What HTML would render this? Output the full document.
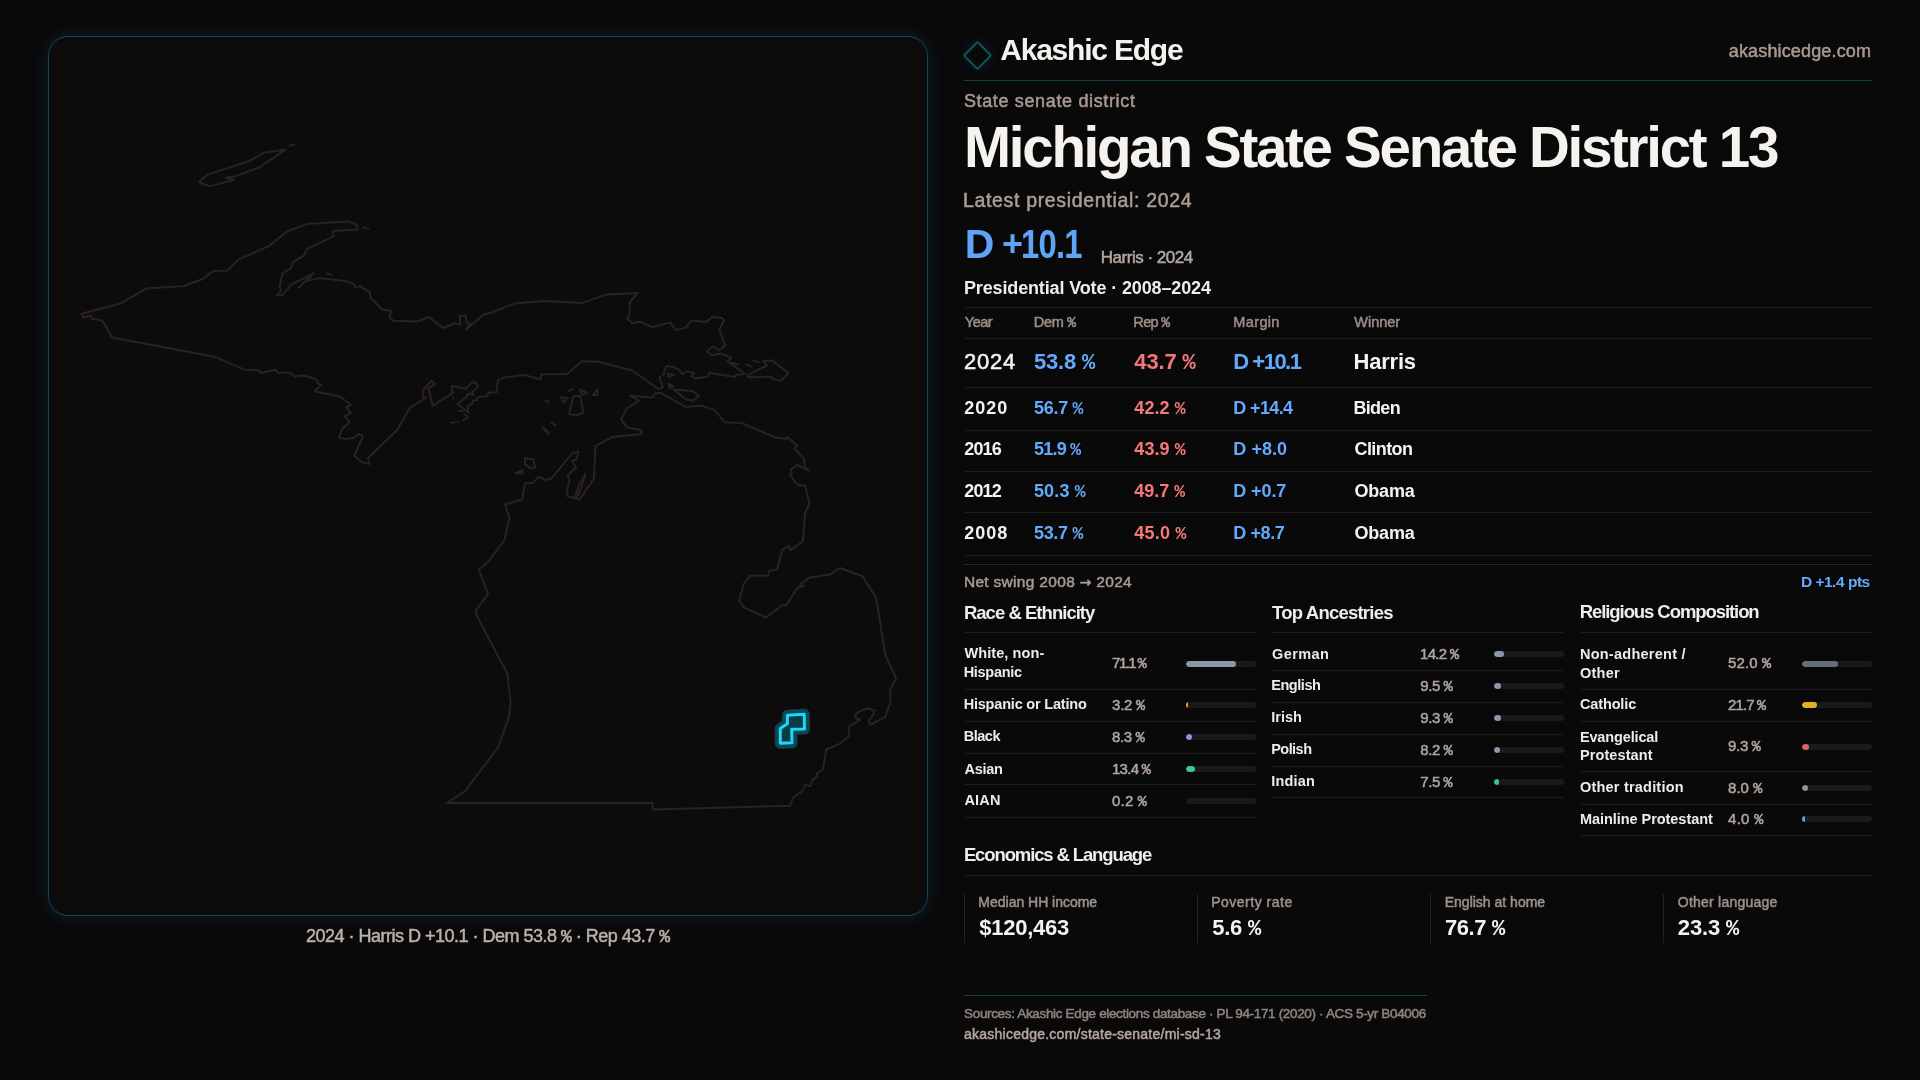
<!DOCTYPE html>
<html><head><meta charset="utf-8"><title>Michigan State Senate District 13</title>
<style>
*{margin:0;padding:0;box-sizing:border-box}
html,body{width:1920px;height:1080px;overflow:hidden;background:#0a090a;font-family:"Liberation Sans",Arial,sans-serif}
.t{position:absolute;white-space:nowrap;line-height:1;font-weight:700}
#tx{position:absolute;left:0;top:0;width:1920px;height:1080px;will-change:transform}
.pc{font-family:'Liberation Mono',monospace}
.ar{font-family:'DejaVu Sans',sans-serif;font-size:0.9em}
.l{position:absolute}
.bar{position:absolute;width:70px;height:6px;border-radius:3px;background:#1b1a1a;overflow:hidden}
.bar i{position:absolute;left:0;top:0;height:6px}
#panel{position:absolute;left:48px;top:36px;width:880px;height:880px;border:1px solid #0f4a57;border-radius:20px;background:#0d0b0c;box-shadow:0 0 16px 1px rgba(16,90,108,.24)}
svg{position:absolute;left:0;top:0}
</style></head><body>
<div id="panel"></div>
<svg width="940" height="930" viewBox="0 0 940 930">
<path d="M81.4 313.8 L121.4 303.2 L146.1 288.6 L183.8 286 L202.8 279 L213.3 270.9 L227.1 270.7 L238 259.9 L269.1 245.9 L286.6 231.7 L306.2 224.1 L348.2 221.4 L357.2 224.7 L357.7 229.5 L332.5 231.1 L334 236.1 L306.7 249.2 L304.5 255.1 L292.7 262.3 L290.9 268.2 L282.6 273.3 L279.6 285.8 L281.1 290.8 L276.7 295.2 L282.2 295.2 L288.8 287.9 L290.5 284.9 L313.5 273.3 L307.3 280.9 L319.4 278.1 L345.6 280.9 L354.4 284.2 L355.5 287.9 L359.8 285.8 L369.7 292.3 L370.8 298 L382.4 309.8 L391.6 311.1 L389.4 317 L393.3 320.8 L417.8 321.4 L428.8 317 L443 328 L455 323.2 L460.5 324.7 L459.4 315.9 L465.9 315.5 L466.4 322.5 L470.3 323.6 L465.9 329.5 L483.4 314.8 L490 313 L514.1 303.6 L544.7 300.9 L581.9 303.1 L607 294.4 L637.7 293.1 L630 302 L629.3 316.7 L626.7 318 L632.2 323.2 L639.8 321.7 L651.9 327.2 L670.5 322.4 L675.5 330 L685.8 327.6 L691.2 320.6 L706.6 321.7 L712 317.1 L722.3 318 L724.1 320.6 L719.2 329.4 L725.2 345.8 L718.6 350.2 L713.1 346.4 L706.6 351.2 L712 355.2 L720.8 353.4 L731.7 357.8 L727.3 361.1 L744.8 373.8 L736.1 374.9 L735 377.1 L708.8 372.7 L708.3 376.4 L695.6 378.6 L691.2 375.8 L694.5 372.7 L686.9 371.4 L682.5 374.2 L679.2 369.8 L673.3 367 L666.8 366.1 L664.6 369.8 L663.9 374.2 L659.5 377.5 L662.8 387.3 L658.4 388.9 L632.2 370.5 L598.3 361.8 L581.9 361.3 L566.6 374.2 L541.4 374.2 L540.3 379.2 L523.9 374.9 L504.2 377.5 L500 379.4 L497.8 380.6 L496.7 392.2 L488.3 392.8 L487.5 396.1 L477.2 397.5 L477.2 400.3 L472.8 400.6 L472.5 403.3 L467.8 406.1 L468.6 412.8 L457.8 404.2 L464.4 398.3 L466.7 397.2 L467.2 393.9 L474.2 394.7 L471.7 392.8 L477.8 386.7 L476.1 382.8 L472.2 382.2 L465.6 388.9 L451.9 385.8 L451.7 393.9 L432.8 405.6 L428.3 388.3 L435 384.2 L431.7 380.8 L426.4 386.1 L423.3 390.6 L422.8 396.1 L425.6 397.8 L420 401.7 L409.6 408.3 L396.9 430.2 L368 458 L369.5 463.9 L361.9 462.3 L354.2 455.8 L363 436.1 L359.2 433.9 L353.1 438.3 L344.4 438.9 L338.9 437.2 L342.6 428.4 L349.8 422.3 L344.8 416.4 L350.9 413.1 L346.1 407 L350.9 404.8 L340 396.7 L314.8 391.2 L321.4 384.7 L318.1 383.6 L317 379.9 L309.4 377 L302.8 375.5 L295.2 376.4 L289.7 372.7 L277.7 372.7 L275.5 369.8 L260.2 373.1 L259.1 370.5 L244.8 369.8 L216.4 357.3 L200 354.1 L112 337.4 L102.4 320.8 L91.9 318.6 L90.8 315.5 L83.6 317.5Z M630 395.7 L653 397.6 L655.2 393.2 L660.6 392.8 L685.8 407 L701.1 405.5 L708.8 408.1 L714.2 409.9 L725.2 422.3 L741.6 423 L775.5 437.7 L786.4 438.8 L787.1 437 L797.3 445.8 L794.5 448.6 L803.9 458.4 L805 467.6 L809.4 470.5 L797.3 465 L790.8 469.4 L791.9 472.7 L789.7 473.8 L795.2 482.5 L798.4 484.7 L805 485.8 L809.4 503.3 L805 513.1 L809.5 503.8 L805 513.8 L803 541.2 L790.5 550 L788.8 546.2 L782.5 549.5 L777 569.5 L769.5 570.5 L768 575.8 L750 575.8 L743.8 583.8 L739.2 600 L743.8 607.5 L766.2 617.5 L782.5 605 L786.2 605.5 L791.2 597.5 L797.5 587.5 L803.8 586.2 L800 584.5 L810 577.5 L830 574.5 L840 568 L862.5 576.2 L876.2 598 L885 653.8 L896.2 678.8 L890 690 L890.5 702.5 L885 717 L870 725 L868.8 721.2 L871.2 717.5 L873.8 713.8 L874.5 710.5 L867.5 708.2 L856.2 713.2 L855 717.5 L860 720 L849.5 726.2 L848.8 736.2 L840 743.8 L826.2 749.5 L823 769.5 L818.8 772 L816.2 773.8 L817.5 776.2 L812.5 780 L810 786.2 L805 785 L802.5 791.2 L793 797.5 L790 805.8 L652.5 809.5 L652.5 803 L447 803 L465 791.2 L498 747.5 L508.8 717.5 L510.5 702.5 L508 680 L508 675 L476.2 614.5 L476.2 610 L488 593.8 L478.8 569.5 L488.8 561.2 L504.5 540 L509.5 517.5 L505 504.5 L522.2 499.5 L524.8 483.6 L532.9 483.1 L538.6 476.6 L545.6 480.1 L551.1 478.8 L571.9 453.6 L578.4 451.4 L576.7 459.1 L571.9 461.2 L576.2 467.8 L571.9 471.1 L567.5 476.1 L569.7 480.9 L567.1 488.6 L567.5 496.2 L579.5 499.5 L593.8 478.8 L595.5 445.9 L612.5 437 L642 433.9 L640.9 430 L626.7 427.4 L621.2 419.1 L626.7 408.8 L638.8 400.5Z M199.1 181.8 L208.2 174.4 L248.9 161.3 L264.2 152.5 L285.5 149.7 L259.9 167.2 L234.5 176.6 L225.8 177.7 L234.1 179.9 L210 186.4 L201.9 183.6Z M747 375.8 L754.7 371.4 L766.7 365.5 L763.4 361.1 L772.2 360.4 L788.6 373.1 L780.9 380.8 L772.2 378.6 L771.1 376.4 L750.3 377.5Z M573.1 396.5 L580.1 396.1 L583.6 412.5 L577.5 415.1 L569.2 414.2Z M561.1 397.2 L567.7 398.3 L563.9 402.7Z M542.5 427.8 L548.6 434.4 L546.4 430Z M579.7 389.5 L587.3 392.8 L581.9 395Z M592.8 395 L597.2 389.5 L597.6 395Z M525 458 L533.3 459.5 L535.5 467.6 L529.8 468.3 L525 463.9Z M515.2 473.3 L522.4 469.8 L522.8 473.3Z M673.8 389.5 L692.3 391.1 L698.9 395.4 L693.4 400.5 L685.8 399.4Z M668.3 373.1 L673.8 375.3 L668.3 377.1Z M668.3 383.6 L673.3 386.2 L669.8 388Z M574.5 498 L579.5 484.2 L585.4 473.9 L581.7 486.4 L576.7 498Z M289.8 145.8 L294.2 144.2 M363.1 227.3 L368.6 228.9 M313.5 273.3 L298.6 287.9 M731.7 362.6 L738.3 364.8 M745.9 364.4 L751.4 366.6 M752.5 360.4 L759.1 362.2 M545.8 400.5 L548.6 402 M551.7 423 L555.2 425.2 M568.8 391.1 L573.1 388.9 M327.7 273.3 L331.4 274.8 M451.1 422.8 L454.4 422.2 M457.6 422 L458.2 422.1 M464.4 414.4 L468.3 416.7 L463.3 420.6 M459 411 L462.8 411 M453.3 392.2 L453.6 392.4 M453.3 397.8 L453.6 398" fill="none" stroke="#272323" stroke-width="2" stroke-linejoin="round" stroke-linecap="round"/>
<path d="M787.4 715.3 L804.2 714.3 L804.5 729 L791.7 729.3 L792 742.8 L780.3 743.3 L780.3 728.5 L787.4 723.7Z" fill="#0b3d48" stroke="#0c4a56" stroke-width="11" stroke-linejoin="round" opacity="0.95"/>
<path d="M787.4 715.3 L804.2 714.3 L804.5 729 L791.7 729.3 L792 742.8 L780.3 743.3 L780.3 728.5 L787.4 723.7Z" fill="#0b3a45" stroke="#1ad9f6" stroke-width="3" stroke-linejoin="round"/>
</svg>
<div style="position:absolute;left:967.1px;top:44.5px;width:21px;height:21px;border:2px solid #135360;transform:rotate(45deg);border-radius:2px;box-shadow:0 0 12px rgba(20,110,130,.2)"></div>
<div class="l" style="left:964px;top:80px;width:908px;height:1px;background:#123f49"></div>
<div class="l" style="left:964px;top:307px;width:908px;height:1px;background:#1f1c1d"></div>
<div class="l" style="left:964px;top:338px;width:908px;height:1px;background:#1f1c1d"></div>
<div class="l" style="left:964px;top:387px;width:908px;height:1px;background:#1f1c1d"></div>
<div class="l" style="left:964px;top:430px;width:908px;height:1px;background:#1f1c1d"></div>
<div class="l" style="left:964px;top:471px;width:908px;height:1px;background:#1f1c1d"></div>
<div class="l" style="left:964px;top:512px;width:908px;height:1px;background:#1f1c1d"></div>
<div class="l" style="left:964px;top:555px;width:908px;height:1px;background:#1f1c1d"></div>
<div class="l" style="left:964px;top:564px;width:908px;height:1px;background:#2a2627"></div>
<div class="l" style="left:964px;top:632px;width:292px;height:1px;background:#1f1c1d"></div>
<div class="l" style="left:964px;top:689px;width:292px;height:1px;background:#1f1c1d"></div>
<div class="l" style="left:964px;top:721px;width:292px;height:1px;background:#1f1c1d"></div>
<div class="l" style="left:964px;top:753px;width:292px;height:1px;background:#1f1c1d"></div>
<div class="l" style="left:964px;top:784px;width:292px;height:1px;background:#1f1c1d"></div>
<div class="l" style="left:964px;top:817px;width:292px;height:1px;background:#1f1c1d"></div>
<div class="l" style="left:1272px;top:632px;width:292px;height:1px;background:#1f1c1d"></div>
<div class="l" style="left:1272px;top:670px;width:292px;height:1px;background:#1f1c1d"></div>
<div class="l" style="left:1272px;top:702px;width:292px;height:1px;background:#1f1c1d"></div>
<div class="l" style="left:1272px;top:734px;width:292px;height:1px;background:#1f1c1d"></div>
<div class="l" style="left:1272px;top:766px;width:292px;height:1px;background:#1f1c1d"></div>
<div class="l" style="left:1272px;top:797px;width:292px;height:1px;background:#1f1c1d"></div>
<div class="l" style="left:1580px;top:632px;width:292px;height:1px;background:#1f1c1d"></div>
<div class="l" style="left:1580px;top:689px;width:292px;height:1px;background:#1f1c1d"></div>
<div class="l" style="left:1580px;top:721px;width:292px;height:1px;background:#1f1c1d"></div>
<div class="l" style="left:1580px;top:771px;width:292px;height:1px;background:#1f1c1d"></div>
<div class="l" style="left:1580px;top:804px;width:292px;height:1px;background:#1f1c1d"></div>
<div class="l" style="left:1580px;top:835px;width:292px;height:1px;background:#1f1c1d"></div>
<div class="l" style="left:964px;top:875px;width:908px;height:1px;background:#1f1c1d"></div>
<div class="l" style="left:964px;top:995px;width:463px;height:1px;background:#123f49"></div>
<div class="l" style="left:964px;top:894px;width:1px;height:49px;background:#262223"></div>
<div class="l" style="left:1197px;top:894px;width:1px;height:49px;background:#262223"></div>
<div class="l" style="left:1430px;top:894px;width:1px;height:49px;background:#262223"></div>
<div class="l" style="left:1663px;top:894px;width:1px;height:49px;background:#262223"></div>
<div class="bar" style="left:1186px;top:661.0px"><i style="width:49.8px;background:#8a97ab;border-radius:3px"></i></div>
<div class="bar" style="left:1186px;top:702.0px"><i style="width:2.2px;background:#f29e12;border-radius:1px"></i></div>
<div class="bar" style="left:1186px;top:734.0px"><i style="width:5.8px;background:#a484e8;border-radius:3px"></i></div>
<div class="bar" style="left:1186px;top:766.0px"><i style="width:9.4px;background:#34c992;border-radius:3px"></i></div>
<div class="bar" style="left:1186px;top:798.0px"></div>
<div class="bar" style="left:1494px;top:651.0px"><i style="width:9.9px;background:#8a97ab;border-radius:3px"></i></div>
<div class="bar" style="left:1494px;top:683.0px"><i style="width:6.7px;background:#8a97ab;border-radius:3px"></i></div>
<div class="bar" style="left:1494px;top:715.0px"><i style="width:6.5px;background:#8a97ab;border-radius:3px"></i></div>
<div class="bar" style="left:1494px;top:747.0px"><i style="width:5.7px;background:#8a97ab;border-radius:3px"></i></div>
<div class="bar" style="left:1494px;top:779.0px"><i style="width:5.2px;background:#34c992;border-radius:3px"></i></div>
<div class="bar" style="left:1802px;top:661.0px"><i style="width:36.4px;background:#666d7a;border-radius:3px"></i></div>
<div class="bar" style="left:1802px;top:702.0px"><i style="width:15.2px;background:#e2b025;border-radius:3px"></i></div>
<div class="bar" style="left:1802px;top:744.0px"><i style="width:6.5px;background:#dd6262;border-radius:3px"></i></div>
<div class="bar" style="left:1802px;top:785.0px"><i style="width:5.6px;background:#8e939c;border-radius:3px"></i></div>
<div class="bar" style="left:1802px;top:816.0px"><i style="width:2.8px;background:#5b9ef0;border-radius:1px"></i></div>
<div id="tx">
<div class="t" style="left:1000.20px;top:34.70px;font-size:30px;color:#f5f2ee;letter-spacing:-1.205px">Akashic Edge</div>
<div class="t" style="left:1728.74px;top:41.50px;font-size:18px;color:#a69a92;letter-spacing:0.155px;font-weight:400;-webkit-text-stroke:0.5px #a69a92">akashicedge.com</div>
<div class="t" style="left:963.92px;top:92.40px;font-size:18px;color:#a89b93;letter-spacing:0.646px;font-weight:400;-webkit-text-stroke:0.5px #a89b93">State senate district</div>
<div class="t" style="left:964.10px;top:120.47px;font-size:56.5px;color:#f6f3ef;letter-spacing:-2.292px">Michigan State Senate District 13</div>
<div class="t" style="left:962.92px;top:191.12px;font-size:19.5px;color:#ab9e96;letter-spacing:0.673px;font-weight:400;-webkit-text-stroke:0.5px #ab9e96">Latest presidential: 2024</div>
<div class="t" style="left:964.64px;top:224.45px;font-size:41px;color:#5fa4f7;letter-spacing:-0.600px">D</div>
<div class="t" style="left:1002.00px;top:225.90px;font-size:36px;color:#5fa4f7;letter-spacing:-1.000px">+</div>
<div class="t" style="left:1021.14px;top:224.45px;font-size:41px;color:#5fa4f7;letter-spacing:-0.932px;transform:scaleX(0.8);transform-origin:0 0">10.1</div>
<div class="t" style="left:1100.82px;top:249.30px;font-size:17px;color:#b3a79f;letter-spacing:-0.490px;font-weight:400;-webkit-text-stroke:0.5px #b3a79f">Harris · 2024</div>
<div class="t" style="left:963.90px;top:278.90px;font-size:18px;color:#f0ece8;letter-spacing:-0.132px">Presidential Vote · 2008–2024</div>
<div class="t" style="left:964.82px;top:315.38px;font-size:14.5px;color:#9a8e87;letter-spacing:-0.490px;font-weight:400;-webkit-text-stroke:0.5px #9a8e87">Year</div>
<div class="t" style="left:1033.72px;top:315.38px;font-size:14.5px;color:#9a8e87;letter-spacing:-0.296px;font-weight:400;-webkit-text-stroke:0.5px #9a8e87">Dem <span class="pc">%</span></div>
<div class="t" style="left:1133.36px;top:315.38px;font-size:14.5px;color:#9a8e87;letter-spacing:-0.677px;font-weight:400;-webkit-text-stroke:0.5px #9a8e87">Rep <span class="pc">%</span></div>
<div class="t" style="left:1233.36px;top:315.38px;font-size:14.5px;color:#9a8e87;letter-spacing:0.349px;font-weight:400;-webkit-text-stroke:0.5px #9a8e87">Margin</div>
<div class="t" style="left:1354.36px;top:315.38px;font-size:14.5px;color:#9a8e87;letter-spacing:-0.020px;font-weight:400;-webkit-text-stroke:0.5px #9a8e87">Winner</div>
<div class="t" style="left:963.98px;top:350.90px;font-size:22px;color:#f6f3ef;letter-spacing:0.745px;font-weight:400;-webkit-text-stroke:0.5px #f6f3ef">2024</div>
<div class="t" style="left:1033.92px;top:350.90px;font-size:22px;color:#64a9fb;letter-spacing:-0.194px">53.8 <span class="pc">%</span></div>
<div class="t" style="left:1134.36px;top:350.90px;font-size:22px;color:#f77878;letter-spacing:-0.174px">43.7 <span class="pc">%</span></div>
<div class="t" style="left:1233.36px;top:350.90px;font-size:22px;color:#64a9fb;letter-spacing:-1.512px">D +10.1</div>
<div class="t" style="left:1353.46px;top:350.90px;font-size:22px;color:#f6f3ef;letter-spacing:-0.200px">Harris</div>
<div class="t" style="left:964.18px;top:399.00px;font-size:18px;color:#f6f3ef;letter-spacing:0.989px">2020</div>
<div class="t" style="left:1033.92px;top:399.00px;font-size:18px;color:#64a9fb;letter-spacing:-0.267px">56.7 <span class="pc">%</span></div>
<div class="t" style="left:1134.36px;top:399.00px;font-size:18px;color:#f77878;letter-spacing:0.061px">42.2 <span class="pc">%</span></div>
<div class="t" style="left:1233.36px;top:399.00px;font-size:18px;color:#64a9fb;letter-spacing:-0.649px">D +14.4</div>
<div class="t" style="left:1353.46px;top:399.00px;font-size:18px;color:#f6f3ef;letter-spacing:-0.706px">Biden</div>
<div class="t" style="left:964.18px;top:440.30px;font-size:18px;color:#f6f3ef;letter-spacing:-0.797px">2016</div>
<div class="t" style="left:1033.92px;top:440.30px;font-size:18px;color:#64a9fb;letter-spacing:-0.723px">51.9 <span class="pc">%</span></div>
<div class="t" style="left:1134.36px;top:440.30px;font-size:18px;color:#f77878;letter-spacing:0.061px">43.9 <span class="pc">%</span></div>
<div class="t" style="left:1233.36px;top:440.30px;font-size:18px;color:#64a9fb;letter-spacing:0.023px">D +8.0</div>
<div class="t" style="left:1354.46px;top:440.30px;font-size:18px;color:#f6f3ef;letter-spacing:-0.574px">Clinton</div>
<div class="t" style="left:964.18px;top:481.70px;font-size:18px;color:#f6f3ef;letter-spacing:-0.797px">2012</div>
<div class="t" style="left:1033.92px;top:481.70px;font-size:18px;color:#64a9fb;letter-spacing:0.169px">50.3 <span class="pc">%</span></div>
<div class="t" style="left:1134.36px;top:481.70px;font-size:18px;color:#f77878;letter-spacing:-0.047px">49.7 <span class="pc">%</span></div>
<div class="t" style="left:1233.36px;top:481.70px;font-size:18px;color:#64a9fb;letter-spacing:-0.125px">D +0.7</div>
<div class="t" style="left:1354.46px;top:481.70px;font-size:18px;color:#f6f3ef;letter-spacing:-0.188px">Obama</div>
<div class="t" style="left:964.18px;top:523.90px;font-size:18px;color:#f6f3ef;letter-spacing:0.989px">2008</div>
<div class="t" style="left:1033.92px;top:523.90px;font-size:18px;color:#64a9fb;letter-spacing:-0.287px">53.7 <span class="pc">%</span></div>
<div class="t" style="left:1134.36px;top:523.90px;font-size:18px;color:#f77878;letter-spacing:0.209px">45.0 <span class="pc">%</span></div>
<div class="t" style="left:1233.36px;top:523.90px;font-size:18px;color:#64a9fb;letter-spacing:-0.433px">D +8.7</div>
<div class="t" style="left:1354.46px;top:523.90px;font-size:18px;color:#f6f3ef;letter-spacing:-0.188px">Obama</div>
<div class="t" style="left:963.90px;top:574.03px;font-size:15.5px;color:#a89b93;letter-spacing:0.309px;font-weight:400;-webkit-text-stroke:0.5px #a89b93">Net swing 2008 <span class="ar">→</span> 2024</div>
<div class="t" style="left:1800.90px;top:573.83px;font-size:15.5px;color:#64a9fb;letter-spacing:-0.486px">D +1.4 pts</div>
<div class="t" style="left:963.90px;top:603.98px;font-size:18.5px;color:#f0ece8;letter-spacing:-0.968px">Race &amp; Ethnicity</div>
<div class="t" style="left:1272.00px;top:604.27px;font-size:18.5px;color:#f0ece8;letter-spacing:-0.780px">Top Ancestries</div>
<div class="t" style="left:1579.72px;top:603.27px;font-size:18.5px;color:#f0ece8;letter-spacing:-1.075px">Religious Composition</div>
<div class="t" style="left:964.46px;top:646.27px;font-size:14.5px;color:#efebe7;letter-spacing:0.089px">White, non-</div>
<div class="t" style="left:963.66px;top:665.27px;font-size:14.5px;color:#efebe7;letter-spacing:-0.290px">Hispanic</div>
<div class="t" style="left:963.66px;top:697.38px;font-size:14.5px;color:#efebe7;letter-spacing:-0.199px">Hispanic or Latino</div>
<div class="t" style="left:963.66px;top:729.47px;font-size:14.5px;color:#efebe7;letter-spacing:-0.462px">Black</div>
<div class="t" style="left:964.46px;top:761.57px;font-size:14.5px;color:#efebe7;letter-spacing:-0.272px">Asian</div>
<div class="t" style="left:964.46px;top:793.38px;font-size:14.5px;color:#efebe7;letter-spacing:0.156px">AIAN</div>
<div class="t" style="left:1112.10px;top:655.05px;font-size:15px;color:#b1a59d;letter-spacing:-1.560px;font-weight:400;-webkit-text-stroke:0.5px #b1a59d">71.1 <span class="pc">%</span></div>
<div class="t" style="left:1112.10px;top:696.95px;font-size:15px;color:#b1a59d;letter-spacing:-0.255px;font-weight:400;-webkit-text-stroke:0.5px #b1a59d">3.2 <span class="pc">%</span></div>
<div class="t" style="left:1112.10px;top:729.05px;font-size:15px;color:#b1a59d;letter-spacing:-0.365px;font-weight:400;-webkit-text-stroke:0.5px #b1a59d">8.3 <span class="pc">%</span></div>
<div class="t" style="left:1111.90px;top:761.15px;font-size:15px;color:#b1a59d;letter-spacing:-0.684px;font-weight:400;-webkit-text-stroke:0.5px #b1a59d">13.4 <span class="pc">%</span></div>
<div class="t" style="left:1112.10px;top:792.95px;font-size:15px;color:#b1a59d;letter-spacing:0.155px;font-weight:400;-webkit-text-stroke:0.5px #b1a59d">0.2 <span class="pc">%</span></div>
<div class="t" style="left:1272.00px;top:646.57px;font-size:14.5px;color:#efebe7;letter-spacing:0.411px">German</div>
<div class="t" style="left:1271.20px;top:678.47px;font-size:14.5px;color:#efebe7;letter-spacing:-0.435px">English</div>
<div class="t" style="left:1271.20px;top:710.27px;font-size:14.5px;color:#efebe7;letter-spacing:0.021px">Irish</div>
<div class="t" style="left:1271.20px;top:742.27px;font-size:14.5px;color:#efebe7;letter-spacing:-0.540px">Polish</div>
<div class="t" style="left:1271.20px;top:774.38px;font-size:14.5px;color:#efebe7;letter-spacing:0.203px">Indian</div>
<div class="t" style="left:1420.08px;top:646.25px;font-size:15px;color:#b1a59d;letter-spacing:-0.704px;font-weight:400;-webkit-text-stroke:0.5px #b1a59d">14.2 <span class="pc">%</span></div>
<div class="t" style="left:1420.28px;top:678.05px;font-size:15px;color:#b1a59d;letter-spacing:-0.365px;font-weight:400;-webkit-text-stroke:0.5px #b1a59d">9.5 <span class="pc">%</span></div>
<div class="t" style="left:1420.28px;top:709.75px;font-size:15px;color:#b1a59d;letter-spacing:-0.365px;font-weight:400;-webkit-text-stroke:0.5px #b1a59d">9.3 <span class="pc">%</span></div>
<div class="t" style="left:1420.28px;top:741.75px;font-size:15px;color:#b1a59d;letter-spacing:-0.365px;font-weight:400;-webkit-text-stroke:0.5px #b1a59d">8.2 <span class="pc">%</span></div>
<div class="t" style="left:1420.28px;top:773.95px;font-size:15px;color:#b1a59d;letter-spacing:-0.435px;font-weight:400;-webkit-text-stroke:0.5px #b1a59d">7.5 <span class="pc">%</span></div>
<div class="t" style="left:1579.92px;top:646.67px;font-size:14.5px;color:#efebe7;letter-spacing:0.257px">Non-adherent /</div>
<div class="t" style="left:1579.92px;top:665.67px;font-size:14.5px;color:#efebe7;letter-spacing:0.263px">Other</div>
<div class="t" style="left:1579.92px;top:697.47px;font-size:14.5px;color:#efebe7;letter-spacing:-0.125px">Catholic</div>
<div class="t" style="left:1579.92px;top:729.67px;font-size:14.5px;color:#efebe7;letter-spacing:-0.140px">Evangelical</div>
<div class="t" style="left:1579.92px;top:748.07px;font-size:14.5px;color:#efebe7;letter-spacing:0.102px">Protestant</div>
<div class="t" style="left:1579.92px;top:780.47px;font-size:14.5px;color:#efebe7;letter-spacing:0.213px">Other tradition</div>
<div class="t" style="left:1579.92px;top:811.57px;font-size:14.5px;color:#efebe7;letter-spacing:-0.046px">Mainline Protestant</div>
<div class="t" style="left:1728.00px;top:654.85px;font-size:15px;color:#b1a59d;letter-spacing:0.112px;font-weight:400;-webkit-text-stroke:0.5px #b1a59d">52.0 <span class="pc">%</span></div>
<div class="t" style="left:1728.00px;top:697.05px;font-size:15px;color:#b1a59d;letter-spacing:-0.852px;font-weight:400;-webkit-text-stroke:0.5px #b1a59d">21.7 <span class="pc">%</span></div>
<div class="t" style="left:1728.00px;top:737.75px;font-size:15px;color:#b1a59d;letter-spacing:-0.295px;font-weight:400;-webkit-text-stroke:0.5px #b1a59d">9.3 <span class="pc">%</span></div>
<div class="t" style="left:1728.00px;top:780.05px;font-size:15px;color:#b1a59d;letter-spacing:0.045px;font-weight:400;-webkit-text-stroke:0.5px #b1a59d">8.0 <span class="pc">%</span></div>
<div class="t" style="left:1728.00px;top:811.15px;font-size:15px;color:#b1a59d;letter-spacing:0.295px;font-weight:400;-webkit-text-stroke:0.5px #b1a59d">4.0 <span class="pc">%</span></div>
<div class="t" style="left:963.90px;top:846.27px;font-size:18.5px;color:#f0ece8;letter-spacing:-1.122px">Economics &amp; Language</div>
<div class="t" style="left:978.36px;top:895.00px;font-size:14px;color:#9d918a;letter-spacing:-0.017px;font-weight:400;-webkit-text-stroke:0.5px #9d918a">Median HH income</div>
<div class="t" style="left:1211.18px;top:895.00px;font-size:14px;color:#9d918a;letter-spacing:0.506px;font-weight:400;-webkit-text-stroke:0.5px #9d918a">Poverty rate</div>
<div class="t" style="left:1444.72px;top:895.00px;font-size:14px;color:#9d918a;font-weight:400;-webkit-text-stroke:0.5px #9d918a">English at home</div>
<div class="t" style="left:1677.82px;top:895.00px;font-size:14px;color:#9d918a;letter-spacing:0.230px;font-weight:400;-webkit-text-stroke:0.5px #9d918a">Other language</div>
<div class="t" style="left:979.36px;top:916.80px;font-size:22px;color:#f6f3ef;letter-spacing:-0.269px">$120,463</div>
<div class="t" style="left:1212.18px;top:916.80px;font-size:22px;color:#f6f3ef;letter-spacing:-0.204px">5.6 <span class="pc">%</span></div>
<div class="t" style="left:1444.92px;top:916.80px;font-size:22px;color:#f6f3ef;letter-spacing:-0.378px">76.7 <span class="pc">%</span></div>
<div class="t" style="left:1677.82px;top:916.80px;font-size:22px;color:#f6f3ef;letter-spacing:-0.158px">23.3 <span class="pc">%</span></div>
<div class="t" style="left:964.05px;top:1006.77px;font-size:13.5px;color:#8f847d;letter-spacing:-0.341px;font-weight:400;-webkit-text-stroke:0.5px #8f847d">Sources: Akashic Edge elections database · PL 94-171 (2020) · ACS 5-yr B04006</div>
<div class="t" style="left:964.05px;top:1026.85px;font-size:14px;color:#b3a79f;letter-spacing:0.235px;font-weight:400;-webkit-text-stroke:0.5px #b3a79f">akashicedge.com/state-senate/mi-sd-13</div>
<div class="t" style="left:306.05px;top:927.40px;font-size:18px;color:#bcb0a8;letter-spacing:-0.506px;font-weight:400;-webkit-text-stroke:0.5px #bcb0a8">2024 · Harris D +10.1 · Dem 53.8 <span class="pc">%</span> · Rep 43.7 <span class="pc">%</span></div>
</div>
</body></html>
